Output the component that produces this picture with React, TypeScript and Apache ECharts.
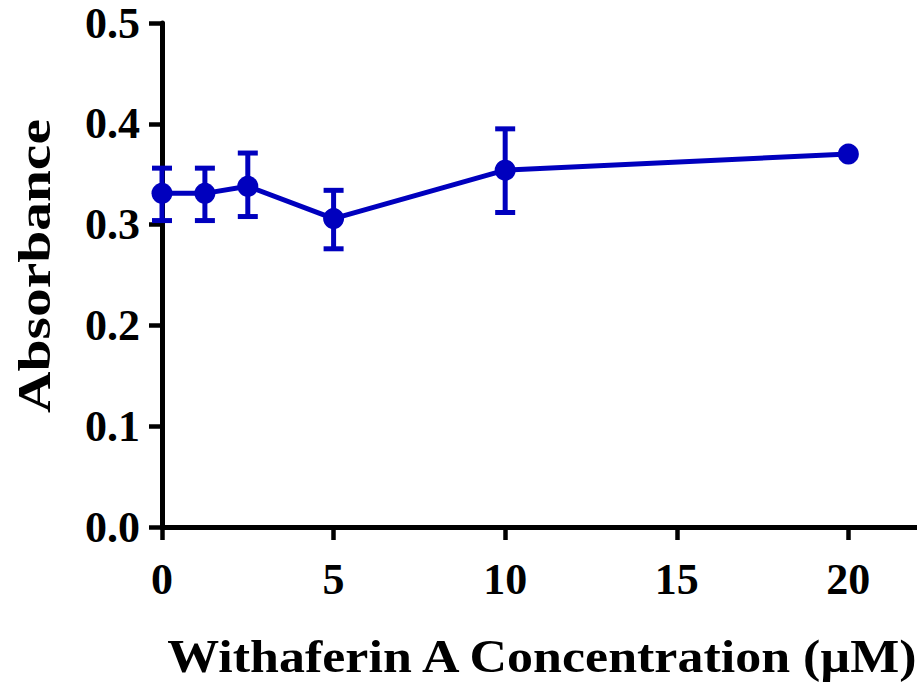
import React, { useEffect, useRef } from "react";
import * as echarts from "echarts";

// Withaferin A concentrations (µM) and mean absorbance readings
const concentrations = [0, 1.25, 2.5, 5, 10, 20];
const absorbance = [0.331, 0.331, 0.338, 0.306, 0.354, 0.37];
// Error bar bounds (lower, upper); the 20 µM point has none drawn
const errorLow = [0.304, 0.304, 0.308, 0.276, 0.312, null];
const errorHigh = [0.356, 0.356, 0.371, 0.334, 0.395, null];

const xTicks = [0, 5, 10, 15, 20];
const yTicks = [0, 0.1, 0.2, 0.3, 0.4, 0.5];

const BLUE = "#0000BE";
const SERIF = "'Liberation Serif', 'DejaVu Serif', serif";

export default function App() {
  const ref = useRef<HTMLDivElement>(null);

  useEffect(() => {
    document.body.style.margin = "0";
    if (!ref.current) return;
    const chart = echarts.init(ref.current, undefined, { renderer: "svg" });

    const points = concentrations.map((x, i) => [x, absorbance[i]]);
    const errors = concentrations
      .map((x, i) => [x, errorLow[i], errorHigh[i]])
      .filter((d) => d[1] != null);

    chart.setOption({
      animation: false,
      backgroundColor: "#ffffff",
      grid: { left: 162, right: 0, top: 23, bottom: 162, containLabel: false },
      xAxis: {
        type: "value",
        min: 0,
        max: 22,
        interval: 5,
        axisLine: { show: true, lineStyle: { color: "#000", width: 5 } },
        axisTick: { show: true, length: 13, lineStyle: { color: "#000", width: 4.5 } },
        splitLine: { show: false },
        axisLabel: {
          margin: 30,
          color: "#000",
          fontFamily: SERIF,
          fontWeight: "bold",
          fontSize: 44,
          showMaxLabel: false,
          formatter: (v: number) => (xTicks.includes(v) ? String(v) : ""),
        },
      },
      yAxis: {
        type: "value",
        min: 0,
        max: 0.5,
        interval: 0.1,
        axisLine: { show: true, lineStyle: { color: "#000", width: 5 } },
        axisTick: { show: true, length: 13, lineStyle: { color: "#000", width: 4.5 } },
        splitLine: { show: false },
        axisLabel: {
          margin: 22,
          color: "#000",
          fontFamily: SERIF,
          fontWeight: "bold",
          fontSize: 44,
          formatter: (v: number) => {
            const t = yTicks.find((y) => Math.abs(y - v) < 1e-9);
            return t == null ? "" : t.toFixed(1);
          },
        },
      },
      graphic: [
        {
          type: "text",
          x: 35,
          y: 266,
          rotation: Math.PI / 2,
          scaleX: 1.25,
          style: {
            text: "Absorbance",
            fontFamily: SERIF,
            fontWeight: "bold",
            fontSize: 46,
            fill: "#000",
            align: "center",
            verticalAlign: "middle",
          },
        },
        {
          type: "text",
          x: 542,
          y: 657,
          scaleX: 1.13,
          style: {
            text: "Withaferin A Concentration (\u00b5M)",
            fontFamily: SERIF,
            fontWeight: "bold",
            fontSize: 46,
            fill: "#000",
            align: "center",
            verticalAlign: "middle",
          },
        },
      ],
      series: [
        {
          type: "custom",
          z: 2,
          data: errors,
          renderItem: (params: any, api: any) => {
            const x = api.value(0);
            const lo = api.coord([x, api.value(1)]);
            const hi = api.coord([x, api.value(2)]);
            const hw = 10;
            const style = { stroke: BLUE, lineWidth: 5 };
            return {
              type: "group",
              children: [
                { type: "line", shape: { x1: lo[0], y1: lo[1], x2: hi[0], y2: hi[1] }, style },
                { type: "line", shape: { x1: lo[0] - hw, y1: lo[1], x2: lo[0] + hw, y2: lo[1] }, style },
                { type: "line", shape: { x1: hi[0] - hw, y1: hi[1], x2: hi[0] + hw, y2: hi[1] }, style },
              ],
            };
          },
        },
        {
          type: "line",
          z: 3,
          data: points,
          symbol: "circle",
          symbolSize: 21,
          lineStyle: { color: BLUE, width: 5 },
          itemStyle: { color: BLUE },
        },
      ],
    });

    return () => chart.dispose();
  }, []);

  return <div ref={ref} style={{ width: 917, height: 689 }} />;
}
